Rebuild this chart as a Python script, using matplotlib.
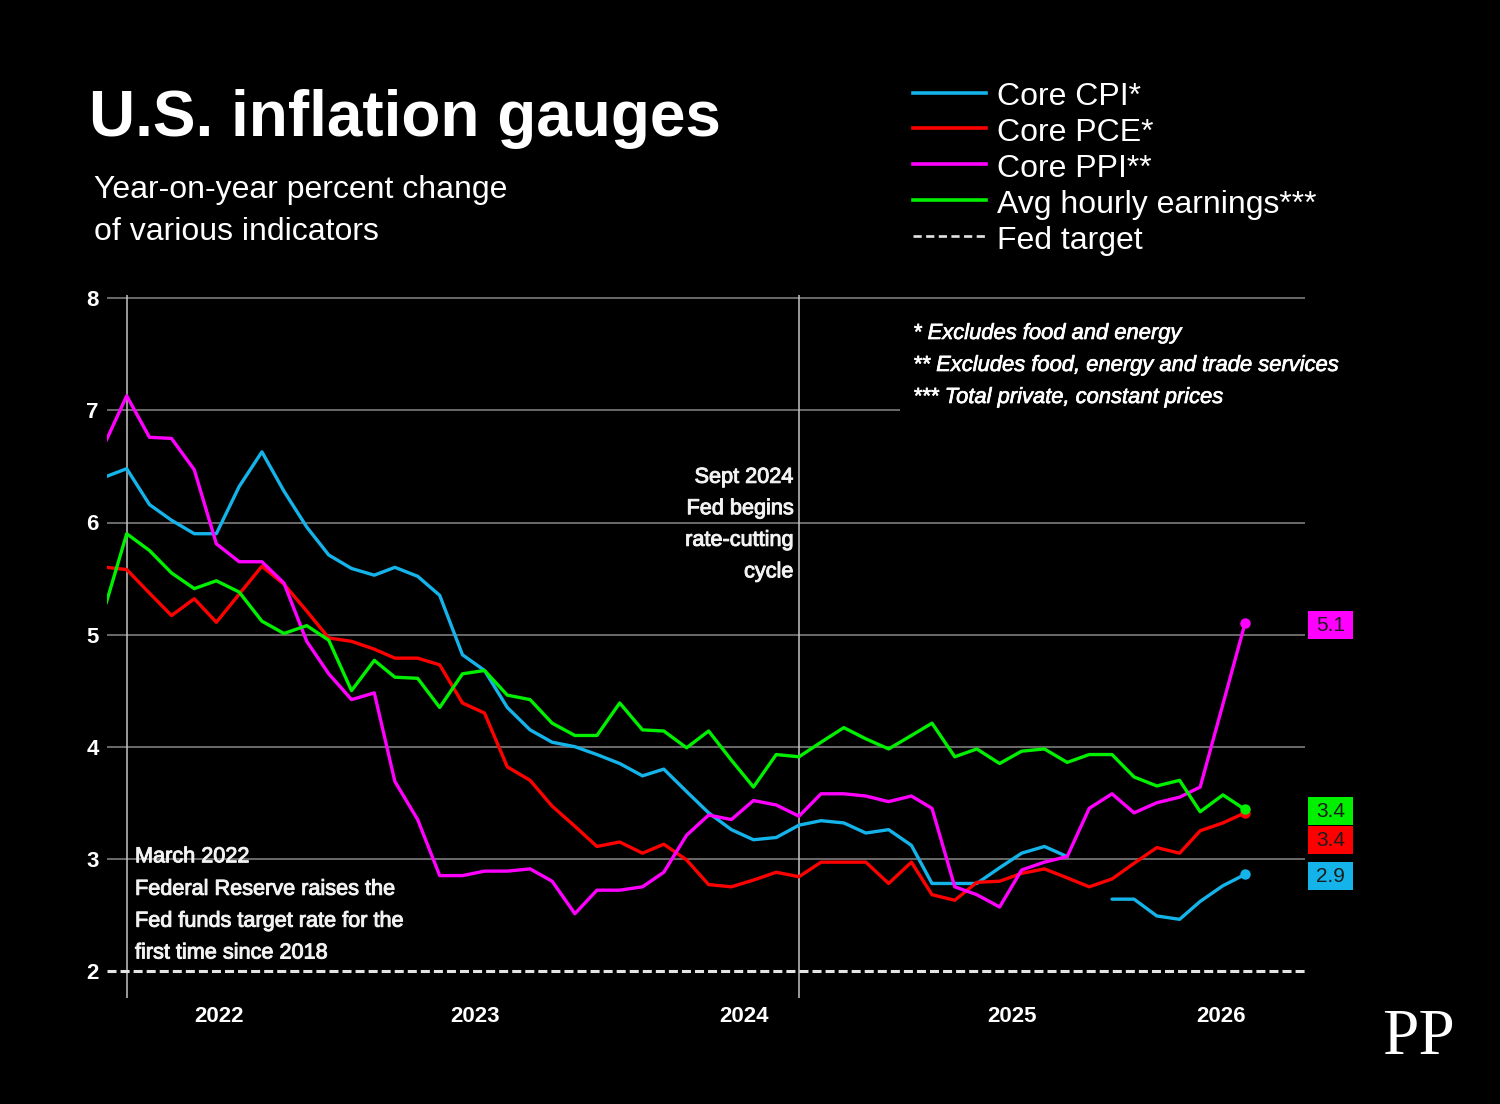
import numpy as np
import pandas as pd
import matplotlib
matplotlib.use('Agg')
import matplotlib.pyplot as plt
import matplotlib.dates as mdates
import matplotlib.transforms as mtransforms
import matplotlib.patheffects as pe
from matplotlib.lines import Line2D
from matplotlib.patches import Rectangle

plt.rcParams['font.family'] = ['Liberation Sans', 'DejaVu Sans']
plt.rcParams['lines.scale_dashes'] = False

# ---------------- data ----------------
dates = pd.date_range('2022-02-01', periods=52, freq='MS')

core_cpi = [6.41, 6.48, 6.16, 6.02, 5.90, 5.90, 6.32, 6.63, 6.28, 5.96, 5.71, 5.59,
            5.53, 5.60, 5.52, 5.35, 4.82, 4.68, 4.35, 4.15, 4.04, 4.00, 3.93, 3.85,
            3.74, 3.80, 3.60, 3.41, 3.26, 3.17, 3.19, 3.30, 3.34, 3.32, 3.23, 3.26,
            3.12, 2.78, 2.78, 2.78, 2.92, 3.05, 3.11, 3.02, np.nan, 2.64, 2.64, 2.49,
            2.46, 2.62, 2.76, 2.86]
core_pce = [5.60, 5.58, 5.37, 5.17, 5.32, 5.11, 5.36, 5.61, 5.45, 5.21, 4.97, 4.94,
            4.87, 4.79, 4.79, 4.73, 4.39, 4.30, 3.82, 3.70, 3.47, 3.29, 3.11, 3.15,
            3.05, 3.13, 2.99, 2.77, 2.75, 2.81, 2.88, 2.84, 2.97, 2.97, 2.97, 2.78,
            2.97, 2.68, 2.63, 2.79, 2.80, 2.87, 2.91, 2.83, 2.75, 2.82, 2.96, 3.10,
            3.05, 3.25, 3.32, 3.41]
core_ppi = [6.73, 7.13, 6.76, 6.75, 6.47, 5.81, 5.65, 5.65, 5.46, 4.94, 4.65, 4.42,
            4.48, 3.69, 3.35, 2.85, 2.85, 2.89, 2.89, 2.91, 2.80, 2.51, 2.72, 2.72,
            2.75, 2.88, 3.21, 3.39, 3.35, 3.52, 3.48, 3.38, 3.58, 3.58, 3.56, 3.51,
            3.56, 3.45, 2.75, 2.68, 2.57, 2.90, 2.97, 3.02, 3.45, 3.58, 3.41, 3.50,
            3.55, 3.64, 4.38, 5.10]
avg_hourly = [5.28, 5.90, 5.75, 5.55, 5.41, 5.48, 5.38, 5.12, 5.01, 5.08, 4.95, 4.50,
              4.77, 4.62, 4.61, 4.35, 4.65, 4.68, 4.46, 4.42, 4.21, 4.10, 4.10, 4.39,
              4.15, 4.14, 3.99, 4.14, 3.88, 3.64, 3.93, 3.91, 4.04, 4.17, 4.07, 3.98,
              4.10, 4.21, 3.91, 3.98, 3.85, 3.96, 3.98, 3.86, 3.93, 3.93, 3.73, 3.65,
              3.70, 3.42, 3.57, 3.44]
fed_target = 2.0

series_names = ['Core CPI*', 'Core PCE*', 'Core PPI**', 'Avg hourly earnings***']
series_values = [core_cpi, core_pce, core_ppi, avg_hourly]
series_colors = ['#14b4ea', '#ff0000', '#ff00ff', '#00f000']
target_name = 'Fed target'

y_ticks = [2, 3, 4, 5, 6, 7, 8]
year_labels = ['2022', '2023', '2024', '2025', '2026']

event_dates = ['2022-03-01', '2024-09-01']
event_texts = [['March 2022', 'Federal Reserve raises the',
                'Fed funds target rate for the', 'first time since 2018'],
               ['Sept 2024', 'Fed begins', 'rate-cutting', 'cycle']]

title = 'U.S. inflation gauges'
subtitle = ['Year-on-year percent change', 'of various indicators']
footnotes = ['* Excludes food and energy',
             '** Excludes food, energy and trade services',
             '*** Total private, constant prices']

# ---------------- figure ----------------
W, H = 1500, 1104
fig = plt.figure(figsize=(W / 100, H / 100), dpi=100, facecolor='black')


def fx(px):
    return px / W


def fy(py):
    return 1 - py / H


thick = [pe.withStroke(linewidth=0.7, foreground='#f2f2f2')]

ax_l, ax_r, ax_t, ax_b = 107, 1305, 295, 998
ax = fig.add_axes([fx(ax_l), fy(ax_b), (ax_r - ax_l) / W, (ax_b - ax_t) / H])
ax.set_facecolor('black')
for s in ax.spines.values():
    s.set_visible(False)

# x scale: ~0.73475 px per day, March 2022 at px 126.7
px_per_day = 0.73475
ref = mdates.date2num(pd.Timestamp('2022-03-01'))
xmin = ref - (126.7 - ax_l) / px_per_day
xmax = ref + (ax_r - 126.7) / px_per_day
ax.set_xlim(xmin, xmax)
px_per_unit = 112.1
ax.set_ylim(2 - (ax_b - 970.9) / px_per_unit, 8 + (298.3 - ax_t) / px_per_unit)

# grid lines
for v in y_ticks[1:]:
    ax.axhline(v, color='#7c7c7c', lw=1.2, zorder=1)
ax.axhline(fed_target, color='#e4e4e4', lw=2.2, dashes=(6.5, 2.9),
           dash_capstyle='butt', zorder=2)

# event lines
for d in event_dates:
    ax.axvline(mdates.date2num(pd.Timestamp(d)), color='#c4c4c4', lw=1.1, zorder=1.5)

# series
for vals, col in zip(series_values, series_colors):
    ax.plot(dates, vals, color=col, lw=2.4, solid_joinstyle='round',
            solid_capstyle='round', zorder=3)
for vals, col in zip(series_values, series_colors):
    ax.plot(dates[-1:], vals[-1:], 'o', color=col, ms=7.5, mec='none', zorder=4)

# ticks
ax.set_yticks(y_ticks)
ax.set_yticklabels([str(t) for t in y_ticks])
ax.tick_params(axis='y', length=0, pad=5.8, labelcolor='white', labelsize=16)
for lab in ax.get_yticklabels():
    lab.set_fontweight('bold')

tick_pos = []
for yl in year_labels:
    y = int(yl)
    s = max(mdates.date2num(pd.Timestamp(f'{y}-01-01')), xmin)
    e = min(mdates.date2num(pd.Timestamp(f'{y + 1}-01-01')), xmax)
    tick_pos.append((s + e) / 2 - 14)
ax.set_xticks(tick_pos)
ax.set_xticklabels(year_labels)
ax.tick_params(axis='x', length=0, pad=5.4, labelcolor='white', labelsize=16)
for lab in ax.get_xticklabels():
    lab.set_fontweight('bold')

# event annotations
ev_specs = [(8.3, 'left', [862.3, 894.8, 926.7, 958.5]),
            (-5.7, 'right', [482.8, 514.2, 545.8, 577.4])]
for d, lines, (dx, ha, bls) in zip(event_dates, event_texts, ev_specs):
    tx = mtransforms.blended_transform_factory(
        mtransforms.offset_copy(ax.transData, fig=fig, x=dx, units='dots'),
        fig.transFigure)
    for line, bl in zip(lines, bls):
        ax.text(mdates.date2num(pd.Timestamp(d)), fy(bl), line, transform=tx,
                ha=ha, va='baseline', color='#f2f2f2', fontsize=15.6, zorder=5,
                path_effects=thick)

# end value boxes
lab_tr = mtransforms.blended_transform_factory(ax.transAxes, ax.transData)
box_w = 44.4 / (ax_r - ax_l)
box_h = 28.0 / px_per_unit
step = 29.0 / px_per_unit
box_x = 1 + 3.3 / (ax_r - ax_l)
order = sorted(range(len(series_values)), key=lambda i: -series_values[i][-1])
prev = None
for i in order:
    v = series_values[i][-1]
    yc = v - 0.015
    if prev is not None and yc > prev - step:
        yc = prev - step
    prev = yc
    ax.add_patch(Rectangle((box_x, yc - box_h / 2), box_w, box_h, transform=lab_tr,
                           fc=series_colors[i], ec='none', clip_on=False, zorder=6))
    ax.text(box_x + box_w / 2, yc, f'{v:.1f}', transform=lab_tr, ha='center',
            va='center', fontsize=15, color='#1c1c1c', clip_on=False, zorder=7)

# footnote background (covers grid lines behind the notes)
fig.add_artist(Rectangle((fx(900), fy(416)), (1352 - 900) / W, (416 - 306) / H,
                         transform=fig.transFigure, fc='black', ec='none', zorder=2))
for note, bl in zip(footnotes, [339, 371, 403]):
    fig.text(fx(913), fy(bl), note, color='white', fontsize=15.8, style='italic',
             va='baseline', ha='left', zorder=3,
             path_effects=[pe.withStroke(linewidth=0.5, foreground='white')])

# title / subtitle
fig.text(fx(89), fy(136), title, color='white', fontsize=46, fontweight='bold',
         va='baseline', ha='left')
for line, bl in zip(subtitle, [198, 240]):
    fig.text(fx(94), fy(bl), line, color='white', fontsize=23, va='baseline', ha='left')

# legend
leg_lines_y = [92.7, 128.3, 164.3, 200.0, 235.7]
leg_base = [105, 141, 177, 213, 249]
for k, (name, col) in enumerate(zip(series_names + [target_name],
                                    series_colors + ['#e4e4e4'])):
    y = fy(leg_lines_y[k])
    if k < len(series_names):
        ln = Line2D([fx(913), fx(986)], [y, y], color=col, lw=2.6,
                    transform=fig.transFigure)
    else:
        ln = Line2D([fx(913), fx(986)], [y, y], color=col, lw=1.9,
                    dashes=(5.9, 3.2), dash_capstyle='butt',
                    transform=fig.transFigure)
    fig.add_artist(ln)
    fig.text(fx(997), fy(leg_base[k]), name, color='white', fontsize=23,
             va='baseline', ha='left')

# logo
fig.text(fx(1382), fy(1054), 'PP', family=['Liberation Serif', 'DejaVu Serif'],
         fontsize=47, color='white', va='baseline', ha='left')

fig.savefig('out.png', dpi=100, facecolor='black')
